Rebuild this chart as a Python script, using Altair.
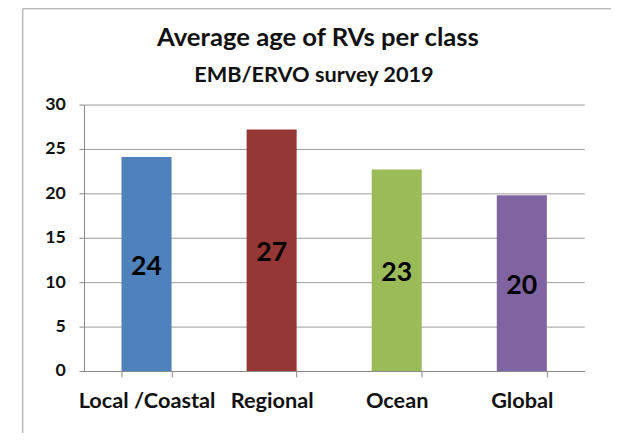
import altair as alt
import pandas as pd

categories = ["Local /Coastal", "Regional", "Ocean", "Global"]
values = [24.1, 27.2, 22.7, 19.8]
labels = ["24", "27", "23", "20"]
colors = ["#4F81BD", "#953735", "#9BBB59", "#8064A2"]
title_text = "Average age of RVs per class"
subtitle_text = "EMB/ERVO survey 2019"

df = pd.DataFrame({"cat": categories, "val": values, "lab": labels,
                   "half": [v / 2 for v in values]})

FONT = "Lato"
W, H = 507, 270

x = alt.X("cat:N", sort=categories, title=None,
          scale=alt.Scale(paddingInner=0.6, paddingOuter=0.3),
          axis=alt.Axis(labelAngle=0, labelFontSize=22, labelFontWeight="bold",
                        labelColor="#111", labelFont=FONT, labelPadding=14,
                        tickBand="extent", tickColor="#888", tickSize=6,
                        domainColor="#888", grid=False))

bars = alt.Chart(df).mark_bar().encode(
    x=x,
    y=alt.Y("val:Q", title=None,
            scale=alt.Scale(domain=[0, 30]),
            axis=alt.Axis(values=[0, 5, 10, 15, 20, 25, 30], labelFontSize=18,
                          labelFontWeight="bold", labelColor="#111", labelFont=FONT,
                          gridColor="#999", gridWidth=1, domainColor="#888",
                          tickColor="#888", tickSize=5, labelPadding=14)),
    color=alt.Color("cat:N", sort=categories,
                    scale=alt.Scale(domain=categories, range=colors), legend=None),
)

text = alt.Chart(df).mark_text(fontSize=27, fontWeight="bold", color="#000",
                               font=FONT, dy=3).encode(
    x=alt.X("cat:N", sort=categories),
    y=alt.Y("half:Q"),
    text="lab:N",
)

tdf = pd.DataFrame({"t": [title_text]})
sdf = pd.DataFrame({"t": [subtitle_text]})
title = alt.Chart(tdf).mark_text(fontSize=26, fontWeight="bold", font=FONT,
                                 color="#111", baseline="alphabetic").encode(
    text="t:N", x=alt.value(237), y=alt.value(-59))
subtitle = alt.Chart(sdf).mark_text(fontSize=22, fontWeight="bold", font=FONT,
                                    color="#111", baseline="alphabetic").encode(
    text="t:N", x=alt.value(233), y=alt.value(-23))

border = alt.Chart(tdf).mark_rule(color="#999", strokeWidth=1).encode(
    x=alt.value(-62), x2=alt.value(560), y=alt.value(-97), y2=alt.value(-97))
border2 = alt.Chart(tdf).mark_rule(color="#999", strokeWidth=1).encode(
    x=alt.value(-62), x2=alt.value(-62), y=alt.value(-97), y2=alt.value(345))

chart = alt.layer(border, border2, bars, text, title, subtitle).properties(
    width=W, height=H,
    autosize=alt.AutoSizeParams(type="none"),
    padding={"left": 77, "top": 95, "right": 27, "bottom": 60},
).configure_view(stroke=None)

chart.save("out.html", embed_options={"renderer": "svg", "actions": False})
